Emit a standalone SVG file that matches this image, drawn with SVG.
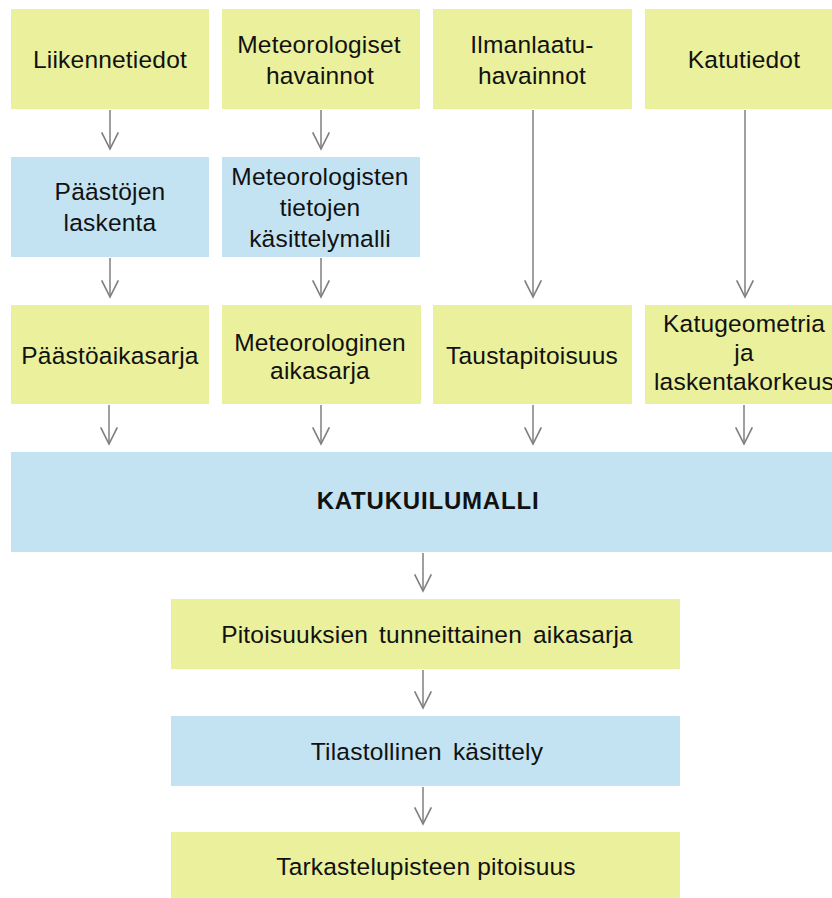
<svg xmlns="http://www.w3.org/2000/svg" width="832" height="898" viewBox="0 0 832 898">
<defs>
<style>
.y{fill:#EAF09C}
.b{fill:#C3E3F3}
text{font-family:"Liberation Sans",Arial,sans-serif;font-size:24.5px;fill:#111111;text-anchor:middle;letter-spacing:0.2px}
.bold{font-weight:bold;font-size:24px;letter-spacing:0.8px}
.w{word-spacing:4px}
.c line{stroke:#7f7f7f;stroke-width:1.5;fill:none;marker-end:url(#ah)}
</style>
<marker id="ah" markerUnits="userSpaceOnUse" orient="auto" refX="0" refY="0" markerWidth="20" markerHeight="20" viewBox="-16 -9 18 18" overflow="visible">
<path d="M-15,-7.5 L0,0 L-15,7.5" fill="none" stroke="#7f7f7f" stroke-width="1.5"/>
</marker>
</defs>
<rect width="832" height="898" fill="#ffffff"/>

<g id="liikennetiedot"><rect class="y" x="11" y="9" width="198" height="100"/><text x="110" y="68">Liikennetiedot</text></g>
<g id="meteorologiset-havainnot"><rect class="y" x="222" y="9" width="198" height="100"/><text x="319" y="53">Meteorologiset</text><text x="320" y="84">havainnot</text></g>
<g id="ilmanlaatuhavainnot"><rect class="y" x="433" y="9" width="199" height="100"/><text x="532" y="53">Ilmanlaatu-</text><text x="532" y="84">havainnot</text></g>
<g id="katutiedot"><rect class="y" x="645" y="9" width="198" height="100"/><text x="744" y="68">Katutiedot</text></g>

<g id="paastojen-laskenta"><rect class="b" x="11" y="157" width="198" height="100"/><text x="110" y="200">Päästöjen</text><text x="110" y="231">laskenta</text></g>
<g id="met-kasittelymalli"><rect class="b" x="222" y="157" width="198" height="100"/><text x="320" y="185">Meteorologisten</text><text x="320" y="216">tietojen</text><text x="320" y="247">käsittelymalli</text></g>

<g id="paastoaikasarja"><rect class="y" x="11" y="305" width="198" height="99"/><text x="110" y="364">Päästöaikasarja</text></g>
<g id="meteorologinen-aikasarja"><rect class="y" x="222" y="305" width="199" height="99"/><text x="320" y="351">Meteorologinen</text><text x="320" y="379">aikasarja</text></g>
<g id="taustapitoisuus"><rect class="y" x="433" y="305" width="199" height="99"/><text x="532" y="364">Taustapitoisuus</text></g>
<g id="katugeometria"><rect class="y" x="645" y="305" width="198" height="99"/><text x="744" y="332">Katugeometria</text><text x="744" y="361">ja</text><text x="744" y="390">laskentakorkeus</text></g>

<g id="katukuilumalli"><rect class="b" x="11" y="452" width="832" height="100"/><text class="bold" x="428" y="509">KATUKUILUMALLI</text></g>

<g id="pitoisuuksien-aikasarja"><rect class="y" x="171" y="599" width="509" height="70"/><text class="w" x="427" y="643">Pitoisuuksien tunneittainen aikasarja</text></g>
<g id="tilastollinen-kasittely"><rect class="b" x="171" y="716" width="509" height="70"/><text class="w" x="427" y="760">Tilastollinen käsittely</text></g>
<g id="tarkastelupisteen-pitoisuus"><rect class="y" x="171" y="832" width="509" height="66"/><text x="426" y="875">Tarkastelupisteen pitoisuus</text></g>

<g id="connectors" class="c">
<line x1="110" y1="110" x2="110" y2="149"/>
<line x1="321" y1="110" x2="321" y2="149"/>
<line x1="533" y1="110" x2="533" y2="297"/>
<line x1="745" y1="110" x2="745" y2="297"/>
<line x1="110" y1="258" x2="110" y2="297"/>
<line x1="321" y1="258" x2="321" y2="297"/>
<line x1="109" y1="405" x2="109" y2="444"/>
<line x1="321" y1="405" x2="321" y2="444"/>
<line x1="533" y1="405" x2="533" y2="444"/>
<line x1="744" y1="405" x2="744" y2="444"/>
<line x1="423" y1="553" x2="423" y2="591"/>
<line x1="423" y1="670" x2="423" y2="708"/>
<line x1="423" y1="787" x2="423" y2="824"/>
</g>
</svg>
